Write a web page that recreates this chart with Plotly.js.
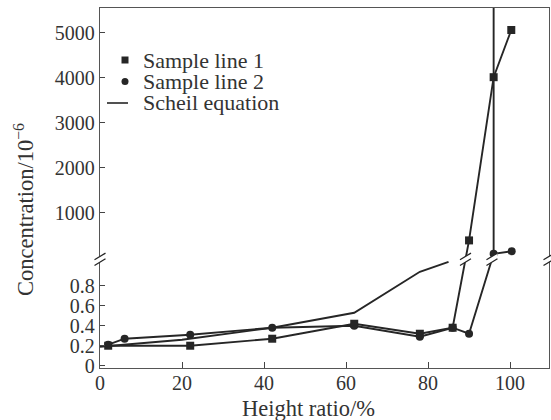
<!DOCTYPE html>
<html>
<head>
<meta charset="utf-8">
<script src="https://cdn.plot.ly/plotly-3.0.1.min.js"></script>
<style>html,body{margin:0;padding:0;background:#fff;}#chart{width:551px;height:420px;}</style>
</head>
<body>
<div id="chart"></div>
<script>
// ---- data ----
const heightRatio1 = [2, 22, 42, 62, 78, 86, 90, 96, 100.3];
const conc1        = [0.20, 0.20, 0.27, 0.42, 0.32, 0.38, 380, 4010, 5060];
const heightRatio2 = [2, 6, 22, 42, 62, 78, 86, 90, 96, 100.4];
const conc2        = [0.21, 0.27, 0.31, 0.38, 0.40, 0.29, 0.38, 0.32, 82, 140];
const heightRatioScheil = [0, 20, 42, 62, 78, 85, null, 96, 96];
const concScheil        = [0.19, 0.26, 0.38, 0.53, 0.94, 1.04, null, 80, 6000];
const lowTicks  = [0, 0.2, 0.4, 0.6, 0.8];
const lowTickText  = ['0', '0.2', '0.4', '0.6', '0.8'];
const highTicks = [1000, 2000, 3000, 4000, 5000];
const highTickText = ['1000', '2000', '3000', '4000', '5000'];
const xTicks = [0, 20, 40, 60, 80, 100];
const seriesNames = ['Sample line 1', 'Sample line 2', 'Scheil equation'];

// ---- broken y axis: lower segment 0..~1, upper segment 0..~5500 ----
const LOW_MAX = 2;
const BREAK_BASE = 1.083;
const HIGH_SCALE = 0.00045;
const BREAK_U = 1.065;
const Y_RANGE = [-0.023, 3.58];
const X_RANGE = [0, 109.5];
function toAxis(v) {
  if (v === null || v === undefined) return null;
  return v <= LOW_MAX ? v : BREAK_BASE + v * HIGH_SCALE;
}

const ink = '#262626';
const FAMILY = "'Liberation Serif', 'DejaVu Serif', 'Noto Serif', Times, serif";
const tickFont = {family: FAMILY, size: 20, color: '#333'};
const textFont = {family: FAMILY, size: 22, color: '#333'};
const titleFont = {family: FAMILY, size: 22.5, color: '#333'};

const traces = [
  {x: heightRatio1, y: conc1.map(toAxis), name: seriesNames[0], mode: 'lines+markers', showlegend: false,
   line: {color: ink, width: 1.9}, marker: {symbol: 'square', size: 8, color: ink}},
  {x: heightRatio2, y: conc2.map(toAxis), name: seriesNames[1], mode: 'lines+markers', showlegend: false,
   line: {color: ink, width: 1.9}, marker: {symbol: 'circle', size: 8, color: ink}},
  {x: heightRatioScheil, y: concScheil.map(toAxis), name: seriesNames[2], mode: 'lines', showlegend: false,
   connectgaps: false, line: {color: ink, width: 1.9}}
];

// break marks where a series crosses the break level
function crossings(xs, vs) {
  const out = [];
  for (let i = 0; i < xs.length - 1; i++) {
    const a = toAxis(vs[i]), b = toAxis(vs[i + 1]);
    if (a === null || b === null) continue;
    if ((a - BREAK_U) * (b - BREAK_U) < 0) {
      const t = (BREAK_U - a) / (b - a);
      out.push(xs[i] + t * (xs[i + 1] - xs[i]));
    }
  }
  return out;
}
const fillPath = 'M-5.5,-6.2L5.5,0.5L5.5,6.2L-5.5,-0.5Z';
const strokePath = 'M-5.5,-6.2L5.5,0.5M-5.5,-0.5L5.5,6.2';
function breakMark(xref, yref, xa, ya) {
  const base = {type: 'path', xref: xref, yref: yref, xsizemode: 'pixel', ysizemode: 'pixel',
                xanchor: xa, yanchor: ya, layer: 'above'};
  return [
    Object.assign({}, base, {path: fillPath, fillcolor: '#ffffff', line: {width: 0}}),
    Object.assign({}, base, {path: strokePath, line: {color: ink, width: 1.3}})
  ];
}
let shapes = [];
crossings(heightRatio1, conc1).forEach(xc => { shapes = shapes.concat(breakMark('x', 'y', xc, BREAK_U)); });
crossings(heightRatio2, conc2).forEach(xc => { shapes = shapes.concat(breakMark('x', 'y', xc, BREAK_U)); });
const breakPaperY = (BREAK_U - Y_RANGE[0]) / (Y_RANGE[1] - Y_RANGE[0]);
shapes = shapes.concat(breakMark('paper', 'paper', 0, breakPaperY));
shapes = shapes.concat(breakMark('paper', 'paper', 1, breakPaperY));

// ---- compact legend (key drawn as shapes + text) ----
const M = {l: 100, r: 2, t: 8, b: 52}, W = 551, H = 420;
const pw = W - M.l - M.r, ph = H - M.t - M.b;
const px2x = p => (p - M.l) / pw;
const py2y = p => (H - M.b - p) / ph;
const legendRows = [60, 81.5, 103];
const keyX = 125, textX = 141;
const legendSymbols = ['square', 'circle', 'line'];
const annotations = [];
legendRows.forEach((ry, i) => {
  annotations.push({text: seriesNames[i], xref: 'paper', yref: 'paper', x: px2x(textX), y: py2y(ry),
                    xanchor: 'left', yanchor: 'middle', showarrow: false, font: textFont});
  const base = {xref: 'paper', yref: 'paper', xsizemode: 'pixel', ysizemode: 'pixel',
                xanchor: px2x(keyX), yanchor: py2y(ry), layer: 'above'};
  if (legendSymbols[i] === 'square') {
    shapes.push(Object.assign({}, base, {type: 'rect', x0: -3.5, x1: 3.5, y0: -3.5, y1: 3.5,
                fillcolor: ink, line: {width: 0}}));
  } else if (legendSymbols[i] === 'circle') {
    shapes.push(Object.assign({}, base, {type: 'circle', x0: -3.5, x1: 3.5, y0: -3.5, y1: 3.5,
                fillcolor: ink, line: {width: 0}}));
  } else {
    shapes.push(Object.assign({}, base, {type: 'line', x0: -18, x1: 3, y0: 0, y1: 0,
                line: {color: ink, width: 1.6}}));
  }
});

annotations.push({text: 'Height ratio/%', xref: 'paper', yref: 'paper', x: px2x(308), y: py2y(408),
   xanchor: 'center', yanchor: 'middle', showarrow: false, font: titleFont});
annotations.push({text: 'Concentration/10<sup>−6</sup>', xref: 'paper', yref: 'paper', x: px2x(24), y: py2y(210),
   xanchor: 'center', yanchor: 'middle', textangle: -90, showarrow: false, font: titleFont});

const layout = {
  width: W, height: H,
  margin: M,
  paper_bgcolor: '#ffffff', plot_bgcolor: '#ffffff',
  font: textFont,
  showlegend: false,
  xaxis: {range: X_RANGE, tickvals: xTicks, ticktext: xTicks.map(String),
          ticks: 'inside', ticklen: 6, tickcolor: '#444', tickwidth: 1, ticklabelstandoff: -3,
          showline: true, linecolor: '#555', linewidth: 1.2, mirror: true,
          showgrid: false, zeroline: false, tickfont: tickFont},
  yaxis: {range: Y_RANGE, tickvals: lowTicks.map(toAxis).concat(highTicks.map(toAxis)),
          ticktext: lowTickText.concat(highTickText),
          ticks: 'inside', ticklen: 5, tickcolor: '#444', tickwidth: 1,
          showline: true, linecolor: '#555', linewidth: 1.2, mirror: true,
          showgrid: false, zeroline: false, tickfont: tickFont},
  annotations: annotations,
  shapes: shapes
};

Plotly.newPlot('chart', traces, layout, {displayModeBar: false, staticPlot: true});
</script>
</body>
</html>
